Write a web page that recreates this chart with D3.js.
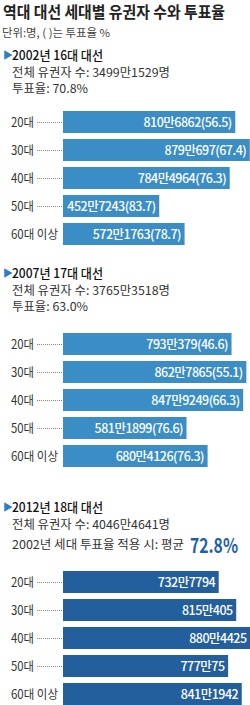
<!DOCTYPE html>
<html>
<head>
<meta charset="utf-8">
<script src="https://cdn.jsdelivr.net/npm/d3@7"></script>
<style>
  body { margin: 0; background: #fff; }
  svg { display: block; font-family: "Noto Sans CJK KR", "Noto Sans", sans-serif; }
</style>
</head>
<body>
<div id="chart"></div>
<script>
// 세대 구분
const ageGroups = ["20대", "30대", "40대", "50대", "60대 이상"];

// 2002년 16대 대선 (유권자 수, 투표율)
const voters2002 = [8106862, 8790697, 7844964, 4527243, 5721763];
const turnout2002 = [56.5, 67.4, 76.3, 83.7, 78.7];
const total2002 = 34991529;
const totalTurnout2002 = 70.8;

// 2007년 17대 대선
const voters2007 = [7930379, 8627865, 8479249, 5811899, 6804126];
const turnout2007 = [46.6, 55.1, 66.3, 76.6, 76.3];
const total2007 = 37653518;
const totalTurnout2007 = 63.0;

// 2012년 18대 대선 (투표율 없음)
const voters2012 = [7327794, 8150405, 8804425, 7770075, 8411942];
const total2012 = 40464641;
const projected2012 = 72.8;

const width = 250;
const height = 705;

const svg = d3.select("#chart").append("svg")
    .attr("width", width)
    .attr("height", height);

// 만 단위 표기: 810만6862
const manFmt = n => `${Math.floor(n / 10000)}만${n % 10000 === 0 ? "" : n % 10000}`;
const pct = d3.format(".1f");

// 모든 패널이 같은 가로 스케일을 씀
const x = d3.scaleLinear().domain([0, 8800000]).range([63, 250]);

// 제목
svg.append("text")
    .attr("x", 3).attr("y", 18)
    .attr("font-size", 16).attr("font-weight", "bold").attr("fill", "#222")
    .attr("textLength", 222).attr("lengthAdjust", "spacingAndGlyphs")
    .text("역대 대선 세대별 유권자 수와 투표율");

svg.append("text")
    .attr("x", 2).attr("y", 37)
    .attr("font-size", 11).attr("fill", "#444")
    .attr("textLength", 108).attr("lengthAdjust", "spacingAndGlyphs")
    .text("단위:명, ( )는 투표율 %");

const panels = [
    {
        title: "2002년 16대 대선", titleY: 55, barTop: 111,
        lines: [`전체 유권자 수: ${manFmt(total2002)}명`, `투표율: ${pct(totalTurnout2002)}%`],
        voters: voters2002, turnout: turnout2002, color: "#3b8dc6"
    },
    {
        title: "2007년 17대 대선", titleY: 273, barTop: 333,
        lines: [`전체 유권자 수: ${manFmt(total2007)}명`, `투표율: ${pct(totalTurnout2007)}%`],
        voters: voters2007, turnout: turnout2007, color: "#3b8dc6"
    },
    {
        title: "2012년 18대 대선", titleY: 507, barTop: 571,
        lines: [`전체 유권자 수: ${manFmt(total2012)}명`, "2002년 세대 투표율 적용 시: 평균 "],
        voters: voters2012, turnout: null, color: "#245f9d"
    }
];

panels.forEach(p => {
    const g = svg.append("g");

    // ▶ 제목
    g.append("path")
        .attr("d", d3.symbol(d3.symbolTriangle, 40)())
        .attr("transform", `translate(7,${p.titleY}) rotate(90)`)
        .attr("fill", "#2f7fc0");
    g.append("text")
        .attr("x", 12).attr("y", p.titleY).attr("dy", "0.36em")
        .attr("font-size", 13).attr("font-weight", 500).attr("fill", "#111")
        .attr("textLength", 91).attr("lengthAdjust", "spacingAndGlyphs")
        .text(p.title);

    const lineW = [158, p.turnout ? 76 : 172];
    p.lines.forEach((t, i) => {
        g.append("text")
            .attr("x", 12).attr("y", p.titleY + 18 + i * (p.turnout ? 16 : 20)).attr("dy", "0.35em")
            .attr("font-size", 12).attr("fill", "#333")
            .attr("textLength", lineW[i]).attr("lengthAdjust", "spacingAndGlyphs")
            .text(t);
    });
    if (!p.turnout) {
        g.append("text")
            .attr("x", 190).attr("y", p.titleY + 39).attr("dy", "0.36em")
            .attr("font-size", 20).attr("font-weight", "bold").attr("fill", "#1f5fa6")
            .attr("textLength", 48).attr("lengthAdjust", "spacingAndGlyphs")
            .text(`${pct(projected2012)}%`);
    }

    const y = d3.scaleBand()
        .domain(ageGroups)
        .range([p.barTop - 3, p.barTop + 137])
        .paddingInner(6 / 28)
        .paddingOuter(3 / 28);

    const rows = g.selectAll("g.row")
        .data(ageGroups.map((a, i) => {
            const v = p.voters[i], t = p.turnout ? p.turnout[i] : null;
            return { age: a, v, label: t == null ? manFmt(v) : `${manFmt(v)}(${pct(t)})` };
        }))
        .join("g")
        .attr("class", "row");

    // 세대 라벨
    rows.append("text")
        .attr("x", 11)
        .attr("y", d => y(d.age) + y.bandwidth() / 2)
        .attr("dy", "0.36em")
        .attr("font-size", 12.5).attr("fill", "#333")
        .attr("textLength", d => d.age.length > 3 ? 47 : 23)
        .attr("lengthAdjust", "spacingAndGlyphs")
        .text(d => d.age);

    // 점선
    rows.filter(d => d.age.length <= 3).append("line")
        .attr("x1", 37).attr("x2", x(0) - 1)
        .attr("y1", d => y(d.age) + y.bandwidth() / 2 + 0.5)
        .attr("y2", d => y(d.age) + y.bandwidth() / 2 + 0.5)
        .attr("stroke", "#888").attr("stroke-width", 1)
        .attr("stroke-dasharray", "1,1");

    rows.append("rect")
        .attr("x", x(0))
        .attr("y", d => y(d.age))
        .attr("width", d => x(d.v) - x(0))
        .attr("height", y.bandwidth())
        .attr("fill", p.color);

    // 막대 안 값 (오른쪽 정렬)
    rows.append("text")
        .attr("x", d => x(d.v) - 3.5)
        .attr("y", d => y(d.age) + y.bandwidth() / 2)
        .attr("dy", "0.36em")
        .attr("text-anchor", "end")
        .attr("font-size", 12.5).attr("font-weight", 500).attr("fill", "#fff")
        .attr("letter-spacing", -0.5)
        .text(d => d.label);
});
</script>
</body>
</html>
